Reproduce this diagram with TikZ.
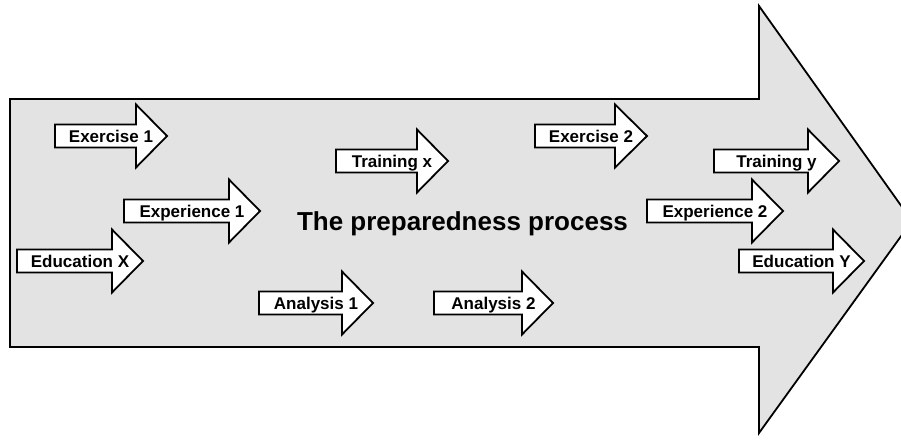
\documentclass[tikz,border=0pt]{standalone}
\usepackage{fontspec}
\setmainfont{Liberation Sans}
\definecolor{procgray}{HTML}{E3E3E3}
\tikzset{
  bigarrow/.style={draw=black, line width=1.8pt, fill=procgray, line join=miter},
  smallarrow/.style={draw=black, line width=1.8pt, fill=white, line join=miter},
  lbl/.style={inner sep=0pt, anchor=base, font=\fontsize{17}{17}\selectfont\bfseries},
  title/.style={inner sep=0pt, anchor=base, font=\fontsize{26}{26}\selectfont\bfseries}
}
\newcommand\parrow[6]{%
  \draw[smallarrow] (#2,#5-11.5) -- (#3,#5-11.5) -- (#3,#5-31.5) -- (#4,#5)
     -- (#3,#5+31.5) -- (#3,#5+11.5) -- (#2,#5+11.5) -- cycle;
  \node[lbl] (#1) at ({(#2+#4)/2},#5+6) {#6};
}
\begin{document}
\begin{tikzpicture}[x=1pt,y=-1pt]
  \useasboundingbox (0,0) rectangle (901,439);
  \clip (0,0) rectangle (901,439);
  \draw[bigarrow] (10,99) -- (759,99) -- (759,6) -- (912,221) -- (759,433)
     -- (759,347) -- (10,347) -- cycle;
  \node[title] (proc) at (462.5,230) {The preparedness process};
  \parrow{ex1}{55}{136}{167}{136}{Exercise 1}
  \parrow{exp1}{124}{229}{260}{211}{Experience 1}
  \parrow{edx}{17}{112}{143}{261}{Education X}
  \parrow{trx}{336}{417}{448}{161}{Training x}
  \parrow{ex2}{535}{615}{647}{136}{Exercise 2}
  \parrow{an1}{259}{342}{373}{303}{Analysis 1}
  \parrow{an2}{434}{522}{553}{303}{Analysis 2}
  \parrow{try}{714}{808}{839}{161}{Training y}
  \parrow{exp2}{647}{752}{783}{211}{Experience 2}
  \parrow{edy}{739}{833}{864}{261}{Education Y}
\end{tikzpicture}
\end{document}
